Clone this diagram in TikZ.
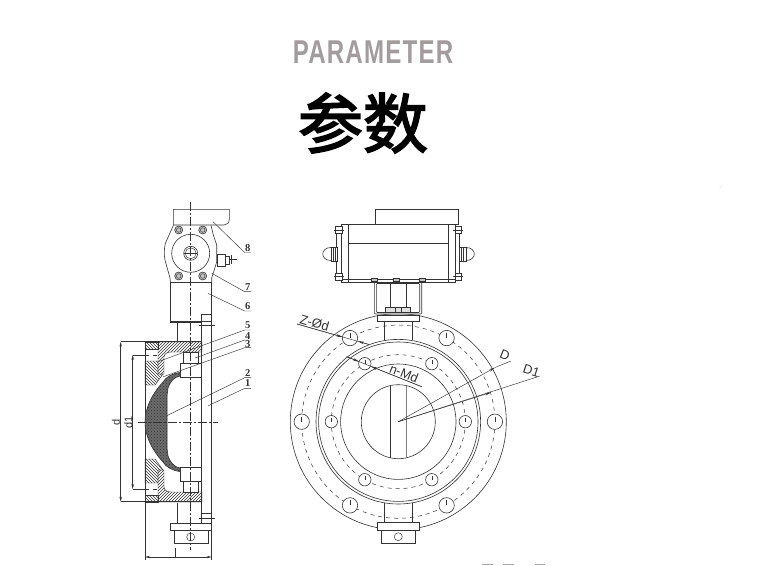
\documentclass[tikz,border=0pt]{standalone}
\usepackage{fontspec}
\setmainfont{Liberation Sans}
\newfontfamily\cjk[FakeBold=2.6]{Noto Sans CJK SC}
\newfontfamily\numfont{Liberation Serif}
\newfontfamily\titlefont[LetterSpace=5]{Liberation Sans}
\usetikzlibrary{patterns,arrows.meta}
\definecolor{ink}{HTML}{333333}
\definecolor{titlegray}{HTML}{A39C9C}
\tikzset{
  part/.style={draw=ink,line width=0.6pt},
  thin part/.style={draw=ink,line width=0.45pt},
  white part/.style={part,fill=white},
  hatch a/.style={thin part,pattern=north east lines,pattern color=ink},
  hatch b/.style={thin part,pattern=north west lines,pattern color=ink},
  centre/.style={draw=ink,line width=0.45pt,dash pattern=on 9pt off 2pt on 2pt off 2pt},
  hidden/.style={draw=ink,line width=0.5pt,dash pattern=on 4pt off 4pt},
  leader/.style={draw=ink,line width=0.45pt},
  dimline/.style={draw=ink,line width=0.45pt},
  arrowdim/.style={dimline,{Stealth[length=5pt,width=2.4pt]}-{Stealth[length=5pt,width=2.4pt]}},
  arrowend/.style={draw=ink,line width=0.45pt,-{Stealth[length=6pt,width=2.6pt]}},
  partno/.style={font=\numfont\bfseries\fontsize{10.5}{10.5}\selectfont,text=ink,inner sep=0pt},
  dimtext/.style={font=\fontsize{11}{11}\selectfont,text=ink,inner sep=0pt},
  leadertext/.style={font=\fontsize{13}{13}\selectfont,text=ink,inner sep=0pt},
}
% half of the sectional view, drawn once for each side of the axis
\newcommand{\halfview}{%
  \path[hatch a] (158,470) -- (164,470) -- (164,487) .. controls (164,490) and (167,492) .. (171,492) -- (202,492) -- (202,502) -- (158,502) -- cycle;
  \path[hatch b] (145,459) -- (155,459) -- (163,470) -- (158,470) -- (158,483) -- (145,483) -- cycle;
  \path[hatch b] (145,495) -- (158,495) -- (158,502) -- (145,502) -- cycle;
  \draw[hidden] (145,489) -- (158,489);
  \draw[white part] (180,467) rectangle (201.7,481);
  \draw[white part] (183.5,481) rectangle (198,492);
}
\begin{document}
\begin{tikzpicture}[x=1pt,y=-1pt]
\useasboundingbox (0,0) rectangle (759,565);
\fill[white] (0,0) rectangle (759,565);
% titles
\node[font=\titlefont\bfseries\fontsize{33}{33}\selectfont,text=titlegray,xscale=0.73,inner sep=0pt] (title) at (373,52) {PARAMETER};
\node[font=\cjk\fontsize{65}{65}\selectfont,text=black,inner sep=0pt] (cntitle) at (363,123) {参数};
% ---------- left view: actuator ----------
\draw[part] (173.3,225) -- (173.3,209.3) -- (229.3,209.3) -- (229.3,219) .. controls (229.3,223) and (227,225) .. (224,225) -- cycle;
\draw[part] (173.3,225.5) -- (165.5,243) .. controls (164,248) and (164,255) .. (165,260) -- (170,278) -- (170.5,282.3) -- (211.7,282.3) -- (211.7,278) -- (216.7,262) -- (216.7,245) -- (213.3,235) -- (211,225.5);
\draw[part] (190.7,253.3) circle (19);
\draw[part] (190.7,253.3) circle (7);
\draw[thin part] (190.7,253.3) circle (5.5);
\draw[thin part] (184,253.3) -- (197.4,253.3);
\foreach \x/\y in {178.7/230,202.7/230,178.7/276,202.7/276}{
  \draw[part,fill=gray!45] (\x,\y) circle (4);
  \draw[thin part] (\x,\y) circle (2.3);
}
\draw[part] (217,254) rectangle (225,266);
\draw[part] (225,256) rectangle (229,264);
\draw[thin part] (229,259.5) -- (237,259.5);
\draw[thin part] (231,255) -- (231,264);
\draw[white part] (170,282.3) rectangle (211.7,321);
\draw[part] (170,321) -- (170,322.5) -- (201.7,322.5);
% ---------- left view: body ----------
\draw[part] (177.3,322.5) -- (177.3,341.7);
\draw[part] (201.7,314) -- (211.7,314);
\draw[part] (201.7,314) -- (201.7,513);
\draw[part] (211.7,321) -- (211.7,523);
\draw[part] (145,341.7) -- (145,501.7);
\draw[part] (145,341.7) -- (201.7,341.7);
\draw[part] (145,501.7) -- (201.7,501.7);
\begin{scope}
  \halfview
\end{scope}
\begin{scope}[shift={(0,844)},yscale=-1]
  \halfview
\end{scope}
% disc
\fill[white] (180,372.5) .. controls (172,373.5) and (166,377) .. (163,382) .. controls (152,394) and (145,408) .. (145,422) .. controls (145,436) and (152,450) .. (163,462) .. controls (166,467) and (172,470.5) .. (180,471.5) -- (180,468) .. controls (174,467) and (170,462) .. (168,456) -- (167,448) -- (167,396) -- (168,388) .. controls (170,382) and (174,377) .. (180,376) -- cycle;
\draw[part,pattern=crosshatch dots,pattern color=ink] (180,372.5) .. controls (172,373.5) and (166,377) .. (163,382) .. controls (152,394) and (145,408) .. (145,422) .. controls (145,436) and (152,450) .. (163,462) .. controls (166,467) and (172,470.5) .. (180,471.5) -- (180,468) .. controls (174,467) and (170,462) .. (168,456) -- (167,448) -- (167,396) -- (168,388) .. controls (170,382) and (174,377) .. (180,376) -- cycle;
\fill[ink,opacity=0.72] (180,372.5) .. controls (172,373.5) and (166,377) .. (163,382) .. controls (152,394) and (145,408) .. (145,422) .. controls (145,436) and (152,450) .. (163,462) .. controls (166,467) and (172,470.5) .. (180,471.5) -- (180,468) .. controls (174,467) and (170,462) .. (168,456) -- (167,448) -- (167,396) -- (168,388) .. controls (170,382) and (174,377) .. (180,376) -- cycle;
% lower end of the stem
\draw[part] (177.3,503) -- (177.3,522.5);
\draw[part] (201.7,503) -- (201.7,522.5);
\draw[part] (201.7,513) -- (211.7,513);
\draw[white part] (170,523) rectangle (211,530);
\draw[white part] (174,530) rectangle (208,543);
\draw[thin part] (190.7,537) circle (4);
% axes
\draw[centre] (190.7,202) -- (190.7,550);
\draw[centre] (138,422) -- (218,422);
\draw[thin part] (199,325.7) -- (215,325.7);
\draw[thin part] (199,518.3) -- (215,518.3);
% dimensions
\coordinate (dtop) at (120.7,341.7);
\coordinate (dbot) at (120.7,501.7);
\coordinate (eatop) at (132.7,355);
\coordinate (eabot) at (132.7,489);
\coordinate (wl) at (145,557);
\coordinate (wr) at (211.7,557);
\draw[arrowdim] (dtop) -- (dbot);
\draw[arrowdim] (eatop) -- (eabot);
\draw[dimline] (dtop) -- (145,341.7);
\draw[dimline] (dbot) -- (145,501.7);
\draw[dimline] (eatop) -- (145,355);
\draw[dimline] (eabot) -- (145,489);
\draw[dimline] (145,501.7) -- (145,560);
\draw[dimline] (211.7,523) -- (211.7,560);
\draw[arrowdim] (wl) -- (wr);
\draw[dimline] (175.7,548) -- (175.7,557);
\node[dimtext,rotate=90] (dlabel) at (116,422) {d};
\node[dimtext,rotate=90] (dalabel) at (128.5,422) {d1};
% part numbers
\foreach \n/\ty/\uy/\tx/\ly in {8/248/252.5/213/221.7,7/286.7/291.7/211.7/273.3,6/306/311/208/293.3,5/325/330/158/361.7,4/335.7/340/195/358,3/344/347.7/163.3/376.7,2/372.7/377.7/166.7/415.7,1/383.3/388.3/208.3/405.7}{
  \node[partno] (no\n) at (247.7,\ty) {\n};
  \coordinate (ua\n) at (244.7,\uy);
  \coordinate (ub\n) at (251,\uy);
  \coordinate (tip\n) at (\tx,\ly);
  \draw[leader] (tip\n) -- (ua\n) -- (ub\n);
}
% ---------- right view ----------
\coordinate (c) at (398.3,421.7);
\draw[part] (c) circle (108);
\draw[hidden] (c) circle (96.6);
\draw[part] (c) circle (82.3);
\draw[part] (c) circle (79.7);
\draw[hidden] (c) circle (67);
\draw[part] (c) circle (57.7);
\draw[part] (c) circle (37);
\foreach \a in {0,60,120,180,240,300}{
  \draw[white part] ([shift={(\a:96.6)}]c) circle (7.7);
  \draw[white part] ([shift={(\a:67)}]c) circle (6.2);
  \draw[thin part] ([shift={(\a:96.6)}]c) ++(0,-5) -- ++(0,5);
  \draw[thin part] ([shift={(\a:67)}]c) ++(0,-4) -- ++(0,4);
}
\draw[part] (390.4,385.6) -- (390.4,457.8);
\draw[part,draw=gray,line width=0.9pt] (406.2,385.6) -- (406.2,457.8);
% neck and end pieces
\draw[part] (384.3,321.7) -- (384.3,340);
\draw[part] (412.7,321.7) -- (412.7,340);
\draw[part] (384.3,503) -- (384.3,522.7);
\draw[part] (412.7,503) -- (412.7,522.7);
\draw[white part] (377.7,522.7) rectangle (419,530);
\draw[white part] (381.7,530) rectangle (415,543.3);
\draw[thin part] (398.3,536.7) circle (4);
\draw[white part] (377.7,315) rectangle (419,321.7);
% bracket
\draw[white part,rounded corners=1pt] (374.3,282) rectangle (421.7,314);
\draw[part,rounded corners=1pt] (376.3,283.5) rectangle (419.7,312.5);
\draw[part] (390.7,283.5) -- (390.7,307);
\draw[part] (406,283.5) -- (406,307);
\draw[part,fill=gray!25] (385.7,307.5) rectangle (410,312.5);
\draw[thin part] (395,307) -- (395,312.5);
\draw[thin part] (401,307) -- (401,312.5);
% actuator
\draw[white part] (375,209.3) rectangle (458.3,224.3);
\draw[white part] (341.7,224.3) rectangle (455,282.3);
\draw[part] (348.3,224.3) -- (348.3,282.3);
\draw[part] (448.3,224.3) -- (448.3,282.3);
\draw[part] (348.3,243.3) -- (448.3,243.3);
\draw[part] (341.7,279) -- (455,279);
\draw[part] (336.7,232) rectangle (341.7,275);
\draw[part] (455,232) rectangle (459.3,275);
\foreach \x/\y in {339/230,339/276.7,458.3/230,458.3/276.7}{
  \draw[white part] (\x-3.3,\y-3.5) rectangle (\x+3.3,\y+3.5);
  \draw[thin part] (\x-5,\y) -- (\x+5,\y);
}
\draw[part] (331,247.5) .. controls (320,247.5) and (320,260.5) .. (331,260.5);
\draw[white part] (331,247) rectangle (337,261);
\draw[thin part] (333,247) -- (333,261);
\draw[thin part] (335,247) -- (335,261);
\draw[part] (466,247.5) .. controls (477,247.5) and (477,260.5) .. (466,260.5);
\draw[white part] (459.3,247) rectangle (466,261);
\draw[thin part] (461.5,247) -- (461.5,261);
\draw[thin part] (463.5,247) -- (463.5,261);
\foreach \x in {374.5,422.5,396}{
  \draw[part,fill=gray!45] (\x-3,278) rectangle (\x+3,281.5);
}
% right view dimensions
\coordinate (zs) at (297,324);
\coordinate (ze) at (369,344.5);
\coordinate (ms) at (346.7,356.7);
\coordinate (me) at (421.7,386.7);
\coordinate (de) at (511,361);
\coordinate (db) at (495,367.5);
\coordinate (dae) at (540,376);
\draw[dimline] (zs) -- (ze);
\draw[arrowend] (zs) -- (342.5,337);
\draw[arrowend] (ze) -- (358,341.3);
\draw[dimline] (ms) -- (me);
\draw[arrowend] (ms) -- (359,361.6);
\draw[arrowend] (me) -- (371,366.4);
\draw[dimline] (db) -- (de);
\draw[arrowend] (c) -- (db);
\draw[dimline] (c) -- (dae);
\draw[arrowend] (c) -- (491,392.4);
\node[leadertext,rotate=-16] (zlabel) at (314.5,323) {Z-Ød};
\node[leadertext,rotate=-22] (mlabel) at (404,373.5) {n-Md};
\node[leadertext,rotate=-22] (dtext) at (505,355) {D};
\node[leadertext,rotate=-18] (datext) at (531.5,370.5) {D1};
% stray marks at the bottom edge and speck
\draw[draw=gray!70,line width=0.8pt] (482,564.5) -- (493,564.5) (503,564.5) -- (514,564.5) (535,564.5) -- (545,564.5);
\fill[gray!60] (720,187) circle (0.5);
\end{tikzpicture}
\end{document}
